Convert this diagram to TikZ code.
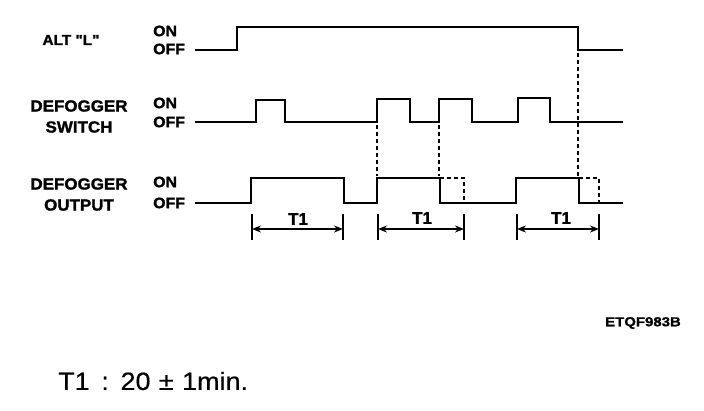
\documentclass[tikz,border=0pt]{standalone}
\usepackage{fontspec}
\setmainfont{Liberation Sans}
\newfontfamily\labfont[FakeStretch=1.06,FakeBold=1.6]{Liberation Sans Bold}
\newfontfamily\codefont[FakeStretch=1.15,FakeBold=1.2]{Liberation Sans Bold}
\newfontfamily\tfont[FakeBold=1.2]{Liberation Sans Bold}
\newfontfamily\notefont[FakeStretch=1.08,FakeBold=0.4]{Liberation Sans}
\usetikzlibrary{arrows.meta}
\tikzset{
  sig/.style={line width=2.8pt, line join=miter},
  guide/.style={line width=1.8pt, dash pattern=on 4pt off 3pt},
  ghost/.style={line width=1.6pt, dash pattern=on 4pt off 3pt},
  tick/.style={line width=2.4pt},
  dim/.style={line width=2pt, {Stealth[length=9pt,width=7pt]}-{Stealth[length=9pt,width=7pt]}},
  siglabel/.style={font=\labfont\fontsize{16}{16}\selectfont, align=center, inner sep=0pt},
  lvl/.style={font=\labfont\fontsize{15}{15}\selectfont, anchor=west, inner sep=0pt},
  tlab/.style={font=\tfont\fontsize{17}{17}\selectfont, inner sep=0pt}
}
\begin{document}
\begin{tikzpicture}[x=1pt,y=-1pt]
\useasboundingbox (0,0) rectangle (704,410);
% labels
\node[siglabel, font=\labfont\fontsize{14.5}{14.5}\selectfont] (altl) at (71,40) {ALT "L"};
\node[lvl] (alton) at (153,31) {ON};
\node[lvl] (altoff) at (153,49) {OFF};
\node[siglabel] (sw1) at (79,106) {DEFOGGER};
\node[siglabel] (sw2) at (79,127) {SWITCH};
\node[lvl] (swon) at (153,103) {ON};
\node[lvl] (swoff) at (153,122) {OFF};
\node[siglabel] (out1) at (79,184) {DEFOGGER};
\node[siglabel] (out2) at (79,205) {OUTPUT};
\node[lvl] (outon) at (153,182) {ON};
\node[lvl] (outoff) at (153,203) {OFF};
% waveforms
\draw[sig] (195,50) -- (237,50) -- (237,27) -- (578,27) -- (578,50) -- (623,50);
\draw[sig] (195,122) -- (256,122) -- (256,100) -- (285,100) -- (285,122)
  -- (377,122) -- (377,99) -- (410,99) -- (410,122) -- (439,122) -- (439,99)
  -- (472,99) -- (472,122) -- (518,122) -- (518,98) -- (550,98) -- (550,122) -- (623,122);
\draw[sig] (195,203) -- (251,203) -- (251,178) -- (344,178) -- (344,203)
  -- (377,203) -- (377,178) -- (440,178) -- (440,203) -- (516,203) -- (516,178)
  -- (579,178) -- (579,203) -- (623,203);
% dashed continuations
\draw[ghost] (440,178) -- (464,178) -- (464,203);
\draw[ghost] (579,178) -- (599,178) -- (599,203);
% guide lines
\draw[guide] (377,125) -- (377,176);
\draw[guide] (439,125) -- (439,176);
\draw[guide] (578,53) -- (578,176);
% dimension ticks
\foreach \n/\x in {a/252,b/343,c/378,d/464,e/517,f/599}{
  \coordinate (t\n) at (\x,229);
  \draw[tick] (\x,214) -- (\x,240);
}
\draw[dim] (ta) -- (tb);
\draw[dim] (tc) -- (td);
\draw[dim] (te) -- (tf);
\node[tlab] (t1a) at (298,219) {T1};
\node[tlab] (t1b) at (422,218) {T1};
\node[tlab] (t1c) at (561,218) {T1};
% codes
\node[font=\codefont\fontsize{13}{13}\selectfont, inner sep=0pt] (code) at (643,323) {ETQF983B};
\node[font=\notefont\fontsize{25}{25}\selectfont, anchor=west, inner sep=0pt] (note) at (58,381) {T1\ \,:\ \,20\,\,±\,\,1min.};
\end{tikzpicture}
\end{document}
